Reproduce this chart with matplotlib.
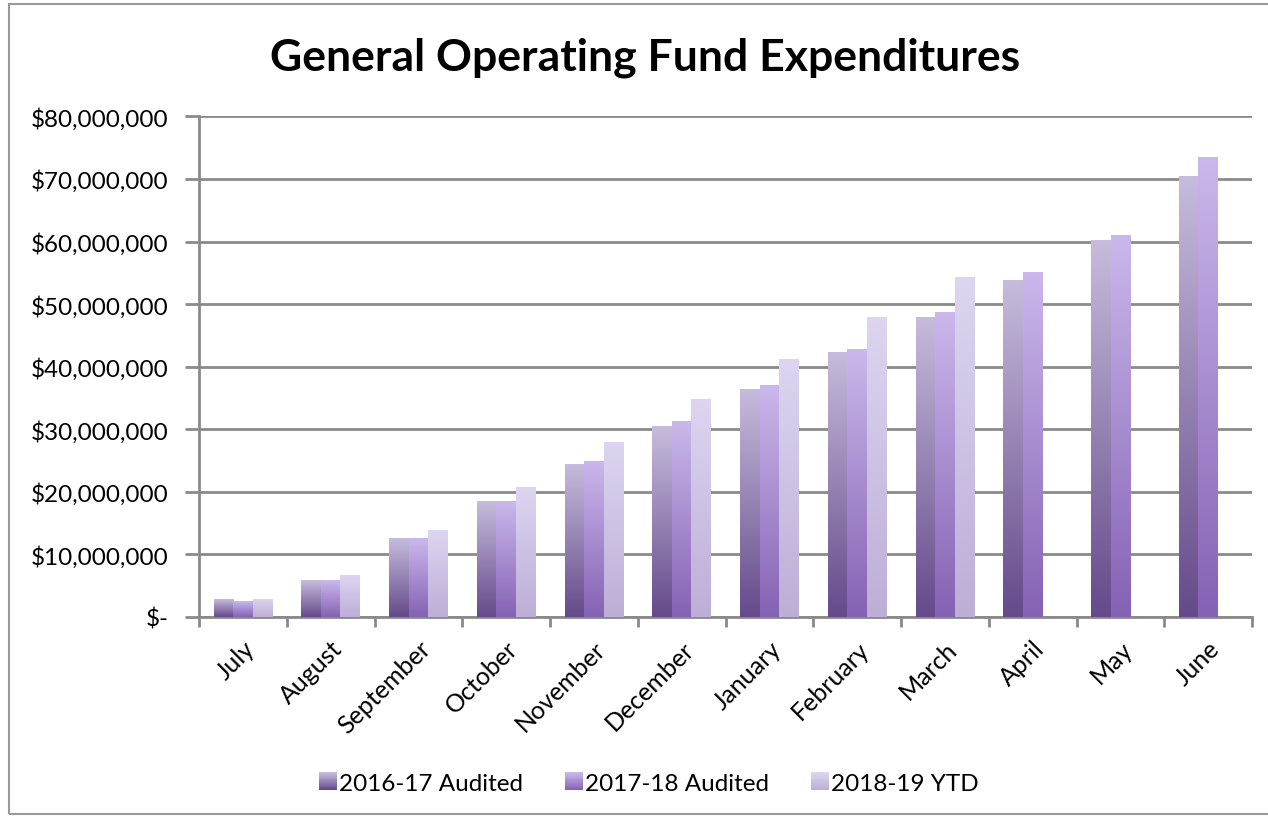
import numpy as np
import matplotlib
matplotlib.use("Agg")
import matplotlib.pyplot as plt
from matplotlib.colors import LinearSegmentedColormap
from matplotlib.patches import Rectangle
from matplotlib.legend_handler import HandlerBase
from matplotlib.ticker import FuncFormatter, FixedLocator

plt.rcParams['font.family'] = ['Lato', 'DejaVu Sans']

months = ['July', 'August', 'September', 'October', 'November', 'December',
          'January', 'February', 'March', 'April', 'May', 'June']
fy17 = [2.85, 5.85, 12.6, 18.5, 24.5, 30.5, 36.5, 42.4, 48.0, 53.9, 60.2, 70.5]
fy18 = [2.5, 5.85, 12.6, 18.5, 25.0, 31.3, 37.0, 42.8, 48.8, 55.2, 61.1, 73.5]
fy19 = [2.9, 6.7, 13.9, 20.7, 28.0, 34.8, 41.2, 48.0, 54.3]  # year to date
series = [('2016-17 Audited', fy17, ('#c6bcdc', '#654a8a')),
          ('2017-18 Audited', fy18, ('#cab8ec', '#8562b4')),
          ('2018-19 YTD', fy19, ('#ddd5f1', '#bdaed6'))]


class GradientSquare(HandlerBase):
    # legend key drawn as a stack of thin strips, dark at the bottom
    def __init__(self, cmap):
        super().__init__()
        self.cmap = cmap

    def create_artists(self, legend, orig_handle, xdescent, ydescent, width, height, fontsize, trans):
        n = 20
        side = min(width, height)
        out = []
        for k in range(n):
            r = Rectangle((-xdescent + width - side, -ydescent + side * k / n), side, side / n + 0.3,
                          facecolor=self.cmap(k / (n - 1)), edgecolor='none', transform=trans)
            out.append(r)
        return out


fig = plt.figure(figsize=(12.68, 8.2), dpi=100)
fig.patches.append(Rectangle((9 / 1268, 5 / 820), 1.2, 810 / 820, transform=fig.transFigure,
                             fill=False, edgecolor='#9a9a9a', linewidth=1.5))
ax = fig.add_axes([199 / 1268, 1 - 618 / 820, 1053 / 1268, 500.6 / 820])

width = 0.222
x = np.arange(len(months))
handles, handler_map = [], {}
for i, (name, vals, (top, bottom)) in enumerate(series):
    vals_d = np.array(vals) * 1e6
    xs = x[:len(vals)] + (i - 1) * width
    bars = ax.bar(xs, vals_d, width=width, color=top, label=name, zorder=3)
    cmap = LinearSegmentedColormap.from_list(name, [bottom, top])
    grad = np.linspace(0, 1, 256).reshape(-1, 1)
    for b in bars:
        x0, w, h = b.get_x(), b.get_width(), b.get_height()
        im = ax.imshow(grad, cmap=cmap, origin='lower', aspect='auto',
                       extent=(x0, x0 + w, 0, h), zorder=3.5)
        im.set_clip_path(b)
    handles.append(bars)
    handler_map[bars] = GradientSquare(cmap)

ax.set_xlim(-0.5, len(months) - 0.5)
ax.set_ylim(0, 80e6)
ax.yaxis.set_major_locator(FixedLocator(np.arange(0, 80e6 + 1, 10e6)))
ax.yaxis.set_major_formatter(FuncFormatter(lambda v, p: '$-' if v == 0 else f'${v:,.0f}'))
ax.grid(axis='y', color='#8a8a8a', linewidth=2, zorder=1)
ax.set_xticks(x)
ax.set_xticklabels(months, rotation=45, ha='right', rotation_mode='anchor')
ax.set_xticks(np.arange(-0.5, len(months)), minor=True)
ax.tick_params(axis='x', which='major', length=0, pad=14, labelsize=18)
ax.tick_params(axis='x', which='minor', length=7, width=2, color='#8a8a8a')
ax.tick_params(axis='y', length=10, width=2, color='#8a8a8a', labelsize=17.5, pad=12)
for s in ['top', 'right']:
    ax.spines[s].set_visible(False)
for s in ['left', 'bottom']:
    ax.spines[s].set_color('#8a8a8a')
    ax.spines[s].set_linewidth(2)
ax.set_axisbelow(True)

fig.text(0.509, 1 - 58 / 820, 'General Operating Fund Expenditures', ha='center', va='center',
         fontsize=32, fontweight='bold')

ax.legend(handles, [s[0] for s in series], handler_map=handler_map, loc='center',
          bbox_to_anchor=(0.427, -(784 - 618) / 500.6), ncol=3, frameon=False, fontsize=17.5,
          handlelength=0.75, handleheight=0.75, columnspacing=1.7, handletextpad=0.1)

fig.savefig('out.png', dpi=100)
